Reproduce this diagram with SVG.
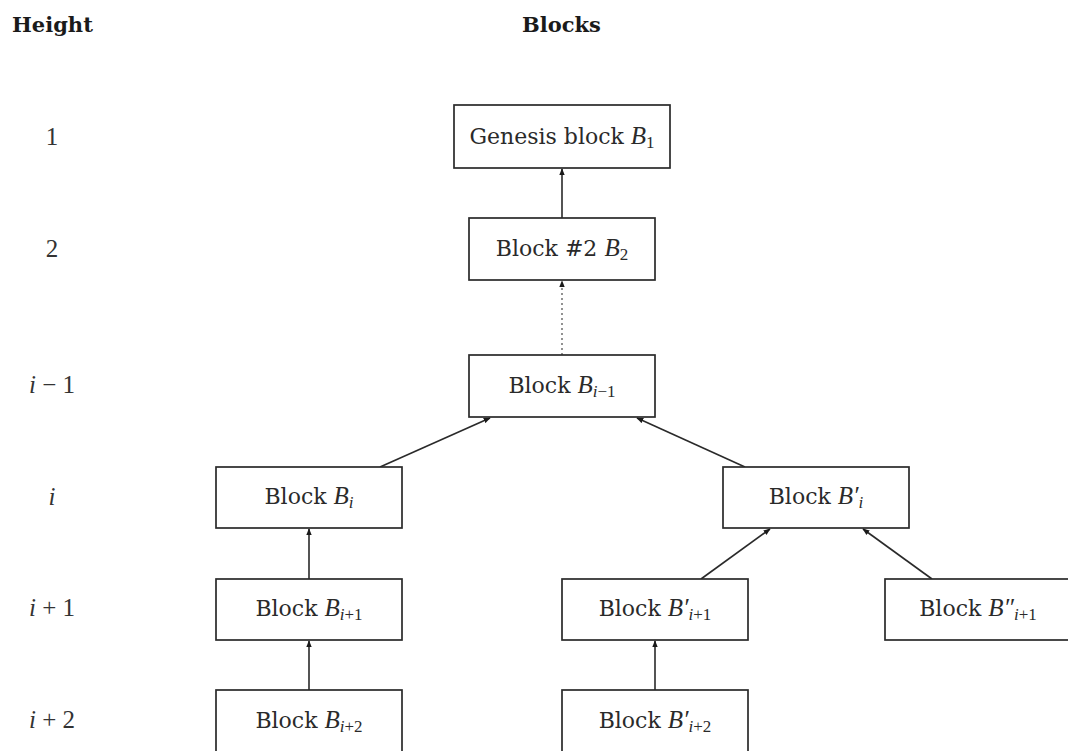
<svg xmlns="http://www.w3.org/2000/svg" width="1068" height="751" viewBox="0 0 1068 751">
<style>
.box{fill:#fff;stroke:#2a2a2a;stroke-width:1.7}
.t{font-family:"DejaVu Serif",serif;font-size:22px;fill:#2a2a2a;text-anchor:middle}
.h{font-family:"DejaVu Serif",serif;font-size:21px;font-weight:bold;fill:#1a1a1a}
.m{font-family:"Liberation Serif",serif;font-style:italic}
.mu{font-family:"Liberation Serif",serif;font-style:normal}
.lab{font-family:"Liberation Serif",serif;font-size:25px;fill:#333;text-anchor:middle}
.c{stroke:#2a2a2a;stroke-width:1.6;fill:none;marker-end:url(#ah)}
.d{stroke-dasharray:2 3;stroke:#777}
</style>
<defs>
<marker id="ah" viewBox="0 0 10 10" refX="9" refY="5" markerWidth="7" markerHeight="7" orient="auto" markerUnits="userSpaceOnUse">
<path d="M0,1 L10,5 L0,9 z" fill="#1a1a1a"/>
</marker>
</defs>
<rect width="1068" height="751" fill="#fff"/>
<g id="headers">
<text class="h" x="12" y="32">Height</text>
<text class="h" x="522" y="32">Blocks</text>
</g>
<g id="heights">
<text class="lab" x="52" y="145">1</text>
<text class="lab" x="52" y="257">2</text>
<text class="lab" x="52" y="393"><tspan class="m">i</tspan> − 1</text>
<text class="lab" x="52" y="505"><tspan class="m">i</tspan></text>
<text class="lab" x="52" y="616"><tspan class="m">i</tspan> + 1</text>
<text class="lab" x="52" y="728"><tspan class="m">i</tspan> + 2</text>
</g>
<g id="connectors">
<line class="c" x1="562" y1="218" x2="562" y2="169"/>
<line class="c d" x1="562" y1="355" x2="562" y2="281"/>
<line class="c" x1="380" y1="467" x2="490" y2="418"/>
<line class="c" x1="745" y1="467" x2="637" y2="418"/>
<line class="c" x1="309" y1="579" x2="309" y2="529"/>
<line class="c" x1="701" y1="579" x2="770" y2="529"/>
<line class="c" x1="932" y1="579" x2="863" y2="529"/>
<line class="c" x1="309" y1="690" x2="309" y2="641"/>
<line class="c" x1="655" y1="690" x2="655" y2="641"/>
</g>
<g id="genesis">
<rect class="box" x="454" y="105" width="216" height="63"/>
<text class="t" x="562" y="144">Genesis block <tspan class="m" font-size="25">B</tspan><tspan class="mu" font-size="17" dy="4">1</tspan></text>
</g>
<g id="block2">
<rect class="box" x="469" y="218" width="186" height="62"/>
<text class="t" x="562" y="256">Block #2 <tspan class="m" font-size="25">B</tspan><tspan class="mu" font-size="17" dy="4">2</tspan></text>
</g>
<g id="block_im1">
<rect class="box" x="469" y="355" width="186" height="62"/>
<text class="t" x="562" y="393">Block <tspan class="m" font-size="25">B</tspan><tspan font-size="17" dy="4"><tspan class="m">i</tspan><tspan class="mu">−1</tspan></tspan></text>
</g>
<g id="block_i">
<rect class="box" x="216" y="467" width="186" height="61"/>
<text class="t" x="309" y="504">Block <tspan class="m" font-size="25">B</tspan><tspan class="m" font-size="17" dy="4">i</tspan></text>
</g>
<g id="block_ip">
<rect class="box" x="723" y="467" width="186" height="61"/>
<text class="t" x="816" y="504">Block <tspan class="m" font-size="25">B′</tspan><tspan class="m" font-size="17" dy="4">i</tspan></text>
</g>
<g id="block_i1">
<rect class="box" x="216" y="579" width="186" height="61"/>
<text class="t" x="309" y="616">Block <tspan class="m" font-size="25">B</tspan><tspan font-size="17" dy="4"><tspan class="m">i</tspan><tspan class="mu">+1</tspan></tspan></text>
</g>
<g id="block_i1p">
<rect class="box" x="562" y="579" width="186" height="61"/>
<text class="t" x="655" y="616">Block <tspan class="m" font-size="25">B′</tspan><tspan font-size="17" dy="4"><tspan class="m">i</tspan><tspan class="mu">+1</tspan></tspan></text>
</g>
<g id="block_i1pp">
<rect class="box" x="885" y="579" width="186" height="61"/>
<text class="t" x="978" y="616">Block <tspan class="m" font-size="25">B″</tspan><tspan font-size="17" dy="4"><tspan class="m">i</tspan><tspan class="mu">+1</tspan></tspan></text>
</g>
<g id="block_i2">
<rect class="box" x="216" y="690" width="186" height="63"/>
<text class="t" x="309" y="728">Block <tspan class="m" font-size="25">B</tspan><tspan font-size="17" dy="4"><tspan class="m">i</tspan><tspan class="mu">+2</tspan></tspan></text>
</g>
<g id="block_i2p">
<rect class="box" x="562" y="690" width="186" height="63"/>
<text class="t" x="655" y="728">Block <tspan class="m" font-size="25">B′</tspan><tspan font-size="17" dy="4"><tspan class="m">i</tspan><tspan class="mu">+2</tspan></tspan></text>
</g>
</svg>
